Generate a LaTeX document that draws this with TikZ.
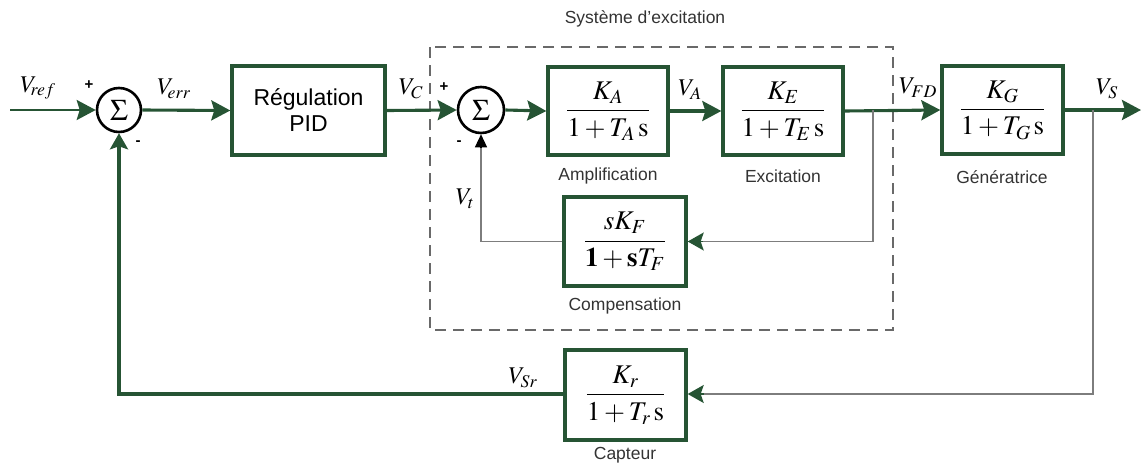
\documentclass[tikz,border=0pt]{standalone}
\usepackage{amsmath}
\usepackage{mathptmx}
\usepackage{fontspec}
\setsansfont{Liberation Sans}
\usetikzlibrary{arrows.meta,calc}
\definecolor{dkgreen}{RGB}{38,84,52}
\definecolor{thingray}{RGB}{125,125,125}
\definecolor{dashgray}{RGB}{105,105,105}
\begin{document}
\begin{tikzpicture}[x=1pt,y=1pt,
  blk/.style={draw=dkgreen,line width=3.4pt,fill=white,minimum width=120pt,minimum height=88pt,inner sep=0pt},
  sumnode/.style={circle,draw=black,line width=2.6pt,minimum size=44pt,inner sep=0pt,font=\fontsize{30}{30}\selectfont},
  mainline/.style={draw=dkgreen,line width=3.1pt},
  thinline/.style={draw=thingray,line width=1.4pt},
  garrow/.style={-{Stealth[length=19pt,width=20pt,inset=3pt]},dkgreen},
  sgarrow/.style={-{Stealth[length=16pt,width=18pt,inset=3pt]},dkgreen},
  karrow/.style={-{Triangle[length=13pt,width=12pt]},black},
  frac/.style={font=\fontsize{27}{31}\selectfont},
  lbl/.style={font=\sffamily\fontsize{17.5}{20}\selectfont,text=black!80},
  sig/.style={font=\fontsize{24}{26}\selectfont},
  sgn/.style={font=\sffamily\bfseries\fontsize{15}{15}\selectfont}
]
\useasboundingbox (0,0) rectangle (1143,-466);
% dashed box
\draw[dashgray,line width=2.6pt,dash pattern=on 11pt off 7pt] (430,-47) rectangle (893,-330);
\node[lbl] (sysl) at (645,-19) {Système d'excitation};

% nodes
\node[sumnode] (s1) at (119,-110) {$\Sigma$};
\node[blk,minimum width=153pt,minimum height=89pt,align=center,font=\sffamily\fontsize{23}{26}\selectfont] (pid) at (308.5,-110.5) {Régulation\\PID};
\node[sumnode,minimum size=46pt] (s2) at (481,-110) {$\Sigma$};
\node[blk,frac] (amp) at (608,-111) {$\dfrac{K_A}{1+T_A\,\mathrm{s}}$};
\node[blk,frac] (exc) at (783,-111) {$\dfrac{K_E}{1+T_E\,\mathrm{s}}$};
\node[blk,frac,minimum width=121pt] (gen) at (1002.5,-110) {$\dfrac{K_G}{1+T_G\,\mathrm{s}}$};
\node[blk,frac,minimum width=122pt,minimum height=89pt] (comp) at (625,-241.5) {$\dfrac{sK_F}{\mathbf{1}+\mathbf{s}T_F}$};
\node[blk,frac,minimum width=121pt,minimum height=90pt] (capt) at (625.5,-395) {$\dfrac{K_r}{1+T_r\,\mathrm{s}}$};

% block labels
\node[lbl] (ampl) at (608,-176) {Amplification};
\node[lbl] (excl) at (783,-176) {Excitation};
\node[lbl] (genl) at (1002,-177) {Génératrice};
\node[lbl] (compl) at (625,-306) {Compensation};
\node[lbl] (captl) at (625,-455) {Capteur};

% coordinates
\coordinate (in) at (10,-110);
\coordinate (out) at (1141,-110);
\coordinate (b1) at (873,-110);
\coordinate (b1d) at (873,-241.5);
\coordinate (b2) at (1093,-110);
\coordinate (b2d) at (1093,-394);

% main path
\draw[mainline,line width=2.4pt,garrow] (in) -- (s1.west);
\draw[mainline,garrow] (s1.east) -- (pid.west);
\draw[mainline,garrow] (pid.east) -- (s2.west);
\draw[mainline,garrow] (s2.east) -- (amp.west);
\draw[mainline,garrow] (amp.east) -- (exc.west);
\draw[mainline,garrow] (exc.east) -- (gen.west);
\draw[mainline,garrow] (gen.east) -- (out);

% inner feedback
\draw[thinline] (b1) -- (b1d) -- ($(comp.east)+(14,0)$);
\draw[dkgreen,line width=1.4pt,sgarrow] ($(comp.east)+(15,0)$) -- (comp.east);
\draw[thinline] (comp.west) -| ($(s2.south)+(0,-12)$);
\draw[black,line width=1.4pt,karrow] ($(s2.south)+(0,-13)$) -- (s2.south);

% outer feedback
\draw[thinline] (b2) -- (b2d) -- ($(capt.east |- b2d)+(15,0)$);
\draw[dkgreen,line width=1.4pt,sgarrow] ($(capt.east |- b2d)+(16,0)$) -- (capt.east |- b2d);
\draw[mainline,sgarrow] (capt.west |- b2d) -| (s1.south);

% signal labels
\node[sig] (vref) at (38,-88) {$V_{\!ref}$};
\node[sgn] (p1) at (89,-85) {+};
\node[sgn] (m1) at (138,-143) {-};
\node[sig] (verr) at (174,-89) {$V_{\!err}$};
\node[sig] (vc) at (411,-89) {$V_{C}$};
\node[sgn] (p2) at (444,-87) {+};
\node[sgn] (m2) at (459,-143) {-};
\node[sig] (va) at (690,-90) {$V_{A}$};
\node[sig] (vt) at (465,-199) {$V_{t}$};
\node[sig] (vfd) at (918,-88) {$V_{FD}$};
\node[sig] (vs) at (1107,-89) {$V_{S}$};
\node[sig] (vsr) at (523,-378) {$V_{Sr}$};
\end{tikzpicture}
\end{document}
